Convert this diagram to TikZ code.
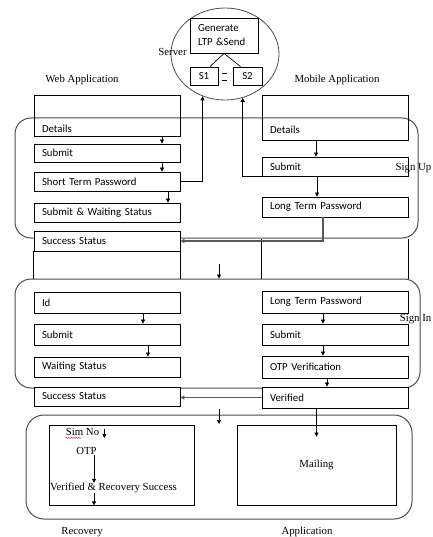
\documentclass[tikz,border=0pt]{standalone}
\usepackage{fontspec}
\setmainfont{Liberation Serif}
\newfontfamily\boxfont{Carlito}
\usetikzlibrary{shapes.geometric,arrows.meta,positioning,decorations.pathmorphing}

\begin{document}
\begin{tikzpicture}[x=1pt, y=-1pt,
  box/.style={draw, fill=white, line width=0.8pt, text width=130pt, inner xsep=8pt, inner ysep=0pt, align=left, font=\boxfont\fontsize{10.8}{14}\selectfont},
  sbox/.style={draw, fill=white, line width=0.8pt, minimum height=18pt, inner sep=0pt, font=\boxfont\fontsize{10.8}{13}\selectfont},
  region/.style={draw=black!70, line width=1pt, rounded corners=16pt},
  lbl/.style={inner sep=0pt, font=\fontsize{10.8}{13}\selectfont},
  arrow/.style={-{Triangle[length=4pt,width=4pt]}, line width=0.7pt},
  link/.style={-{Triangle[length=4pt,width=4pt]}, line width=1.1pt, black!65},
]
\useasboundingbox (0,0) rectangle (432,537);

% Server
\node[draw, ellipse, black!70, line width=0.8pt, minimum width=108pt, minimum height=92pt] (server) at (225,54) {};
\node[box, text width=52pt, minimum height=35pt] (gen) at (224,35.5) {Generate\\LTP \&Send};
\node[sbox, minimum width=28pt] (s1) at (204,76) {S1};
\node[sbox, minimum width=29pt] (s2) at (247.5,76) {S2};
\draw[line width=0.7pt] (gen.south) -- ([xshift=6pt]s1.north);
\draw[line width=0.7pt] (gen.south) -- ([xshift=-7pt]s2.north);
\draw[line width=0.7pt] (222,73) -- (227,73) (222,80) -- (227,80);
\node[lbl] (srv) at (172.5,52) {Server};

% Column titles
\node[lbl] (web) at (82,80) {Web Application};
\node[lbl] (mob) at (337,80) {Mobile Application};

% Regions
\node[region, minimum width=403pt, minimum height=120pt] (signup) at (216.5,178) {};
\node[region, minimum width=405pt, minimum height=109pt] (signin) at (217.5,333.5) {};
\node[region, minimum width=386pt, minimum height=104pt, rounded corners=18pt] (app) at (219,467) {};

% Sign up, web side
\node[box, fill=none, minimum height=41pt] (wdet) at (107,115.5) {\raisebox{-17pt}[0pt][0pt]{Details}};
\node[box, minimum height=18pt] (wsub) at (107,153) {Submit};
\node[box, minimum height=19pt] (wstp) at (107,181.5) {Short Term Password};
\node[box, minimum height=19pt] (wwait) at (107,212.5) {Submit \& Waiting Status};
\node[box, minimum height=20pt] (wsucc) at (107,241) {Success Status};
\draw[line width=0.8pt] (wsucc.south west) -- (wsucc.south west |- signin.north)
  (wsucc.south east) -- (wsucc.south east |- signin.north);

% Sign up, mobile side
\node[box, fill=none, minimum height=45pt] (mdet) at (335,117.5) {\raisebox{-16pt}[0pt][0pt]{Details}};
\node[box, minimum height=19pt] (msub) at (335,166.5) {Submit};
\node[box, minimum height=20pt] (mltp) at (335,207) {Long Term Password};
\draw[line width=0.8pt] (mltp.south west |- signup.south) -- (mltp.south west |- signin.north)
  (mltp.south east |- signup.south) -- (mltp.south east |- signin.north);

\draw[arrow] ([xshift=55pt]wdet.south) -- ([xshift=55pt]wsub.north);
\draw[arrow] ([xshift=55pt]wsub.south) -- ([xshift=55pt]wstp.north);
\draw[arrow] ([xshift=61pt]wstp.south) -- ([xshift=61pt]wwait.north);
\draw[arrow] ([xshift=-19pt]mdet.south) -- ([xshift=-19pt]msub.north);
\draw[arrow] ([xshift=-18pt]msub.south) -- ([xshift=-18pt]mltp.north);

\draw[arrow] (wstp.east) -| (server.242);
\draw[arrow] (msub.south west) -| (server.292);
\draw[link] ([xshift=-12pt]mltp.south) |- (wsucc.east);

\coordinate (drop1) at (219,264);
\draw[arrow] (drop1) -- (drop1 |- signin.north);

% Sign in
\node[box, minimum height=21pt] (wid) at (107,302.5) {Id};
\node[box, minimum height=21pt] (wsub2) at (107,334.5) {Submit};
\node[box, minimum height=20pt] (wwait2) at (107,367) {Waiting Status};
\node[box, minimum height=19pt] (wsucc2) at (107,396.5) {Success Status};
\node[box, minimum height=22pt] (mltp2) at (335,302) {Long Term Password};
\node[box, minimum height=21pt] (msub2) at (335,334.5) {Submit};
\node[box, minimum height=22pt] (motp) at (335,367) {OTP Verification};
\node[box, minimum height=21pt] (mver) at (335,397.5) {Verified};

\draw[arrow] ([xshift=36pt]wid.south) -- ([xshift=36pt]wsub2.north);
\draw[arrow] ([xshift=41pt]wsub2.south) -- ([xshift=41pt]wwait2.north);
\draw[arrow] ([xshift=-12pt]mltp2.south) -- ([xshift=-12pt]msub2.north);
\draw[arrow] ([xshift=-12pt]msub2.south) -- ([xshift=-12pt]motp.north);
\draw[arrow] ([xshift=-8pt]motp.south) -- ([xshift=-8pt]mver.north);
\draw[link] (mver.west) -- (mver.west -| wsucc2.east);

% Region labels
\node[lbl, anchor=east] (uplbl) at (431.5,168) {Sign Up};
\node[lbl, anchor=east] (inlbl) at (431.5,319) {Sign In};

% Recovery and application
\node[draw, line width=0.8pt, minimum width=145pt, minimum height=80pt] (recbox) at (121.5,465) {};
\node[draw, line width=0.8pt, minimum width=159pt, minimum height=80pt, font=\fontsize{10.8}{13}\selectfont] (mail) at (316.5,465) {Mailing};
\node[lbl] (simno) at (82.5,432) {Sim No};
\node[lbl] (otp) at (86.5,451) {OTP};
\node[lbl] (recok) at (113.5,488) {Verified \& Recovery Success};
\draw[red, decorate, decoration={snake, amplitude=0.6pt, segment length=2.5pt}]
  ([yshift=-2pt]simno.south west) -- ([yshift=-2pt, xshift=16pt]simno.south west);
\draw[arrow] ([shift={(5,-3)}]simno.east) -- ([shift={(5,6)}]simno.east);
\draw[arrow] (otp.south -| 94,0) -- (recok.north -| 94,0);
\draw[arrow] (recok.south -| 94,0) -- (recbox.south -| 94,0);

\coordinate (drop2) at (219,409);
\draw[arrow] (drop2) -- ++(0,15);
\draw[arrow] (mver.south -| mail.north) -- ([yshift=-12pt]mail.north);

\node[lbl] (reclbl) at (82,532) {Recovery};
\node[lbl] (applbl) at (307,532) {Application};
\end{tikzpicture}
\end{document}
